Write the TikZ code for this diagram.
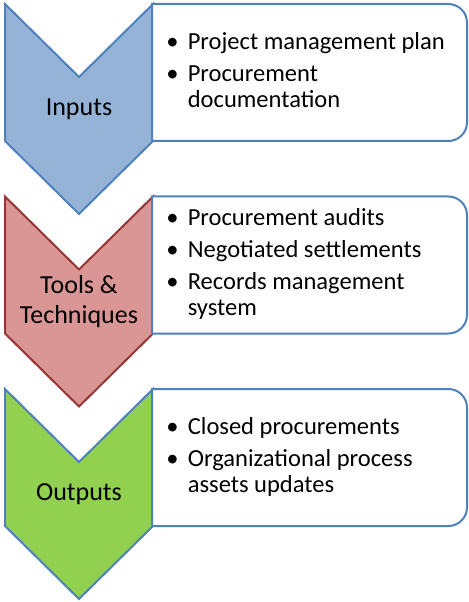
\documentclass[tikz,border=0pt]{standalone}
\usepackage{fontspec}
\setmainfont{Carlito}
\usetikzlibrary{positioning}
\definecolor{stageblue}{RGB}{149,179,215}
\definecolor{edgeblue}{RGB}{79,129,189}
\definecolor{stagered}{RGB}{217,150,148}
\definecolor{edgered}{RGB}{149,55,53}
\definecolor{stagegreen}{RGB}{146,208,80}

\begin{document}
\begin{tikzpicture}[
    x=0.75pt, y=-0.75pt,
    chev/.style={line width=1.5pt, line join=miter},
    panel/.style={line width=1.5pt, draw=edgeblue, fill=white},
    stage/.style={font=\fontsize{19.5}{22.5}\selectfont, align=center,
                  inner sep=0pt},
    items/.style={font=\fontsize{18.4}{19.5}\selectfont, anchor=west,
                  inner sep=0pt}
  ]
  \useasboundingbox (0,0) rectangle (468,602);
  % inputs
  \draw[chev, draw=edgeblue, fill=stageblue] (5,4) -- ++(74,73) -- ++(74,-73)
    -- ++(0,137) -- ++(-74,73) -- ++(-74,-73) -- cycle;
  \draw[panel] (152,141) -- (152,4) [rounded corners=14pt] -- (467,4)
    -- (467,141) [sharp corners] -- cycle;
  \node[stage] (inputs) at (79,109) {Inputs};
  \node[items] (inputlist) at (166,73) {%
    \begin{tabular}{@{}l@{\hspace{7pt}}l@{}}
      \textbullet & Project management plan\\[4.5pt]
      \textbullet & Procurement\\
                  & documentation
    \end{tabular}};
  % tools & techniques
  \draw[chev, draw=edgered, fill=stagered] (5,196.5) -- ++(74,73) -- ++(74,-73)
    -- ++(0,137) -- ++(-74,73) -- ++(-74,-73) -- cycle;
  \draw[panel] (152,333.5) -- (152,196.5) [rounded corners=14pt] -- (467,196.5)
    -- (467,333.5) [sharp corners] -- cycle;
  \node[stage] (tools) at (79,302) {Tools \&\\Techniques};
  \node[items] (toollist) at (166,265.5) {%
    \begin{tabular}{@{}l@{\hspace{7pt}}l@{}}
      \textbullet & Procurement audits\\[4.5pt]
      \textbullet & Negotiated settlements\\[4.5pt]
      \textbullet & Records management\\
                  & system
    \end{tabular}};
  % outputs
  \draw[chev, draw=edgeblue, fill=stagegreen] (5,389) -- ++(74,73) -- ++(74,-73)
    -- ++(0,137) -- ++(-74,73) -- ++(-74,-73) -- cycle;
  \draw[panel] (152,526) -- (152,389) [rounded corners=14pt] -- (467,389)
    -- (467,526) [sharp corners] -- cycle;
  \node[stage] (outputs) at (79,494) {Outputs};
  \node[items] (outputlist) at (166,458) {%
    \begin{tabular}{@{}l@{\hspace{7pt}}l@{}}
      \textbullet & Closed procurements\\[4.5pt]
      \textbullet & Organizational process\\
                  & assets updates
    \end{tabular}};
\end{tikzpicture}
\end{document}
